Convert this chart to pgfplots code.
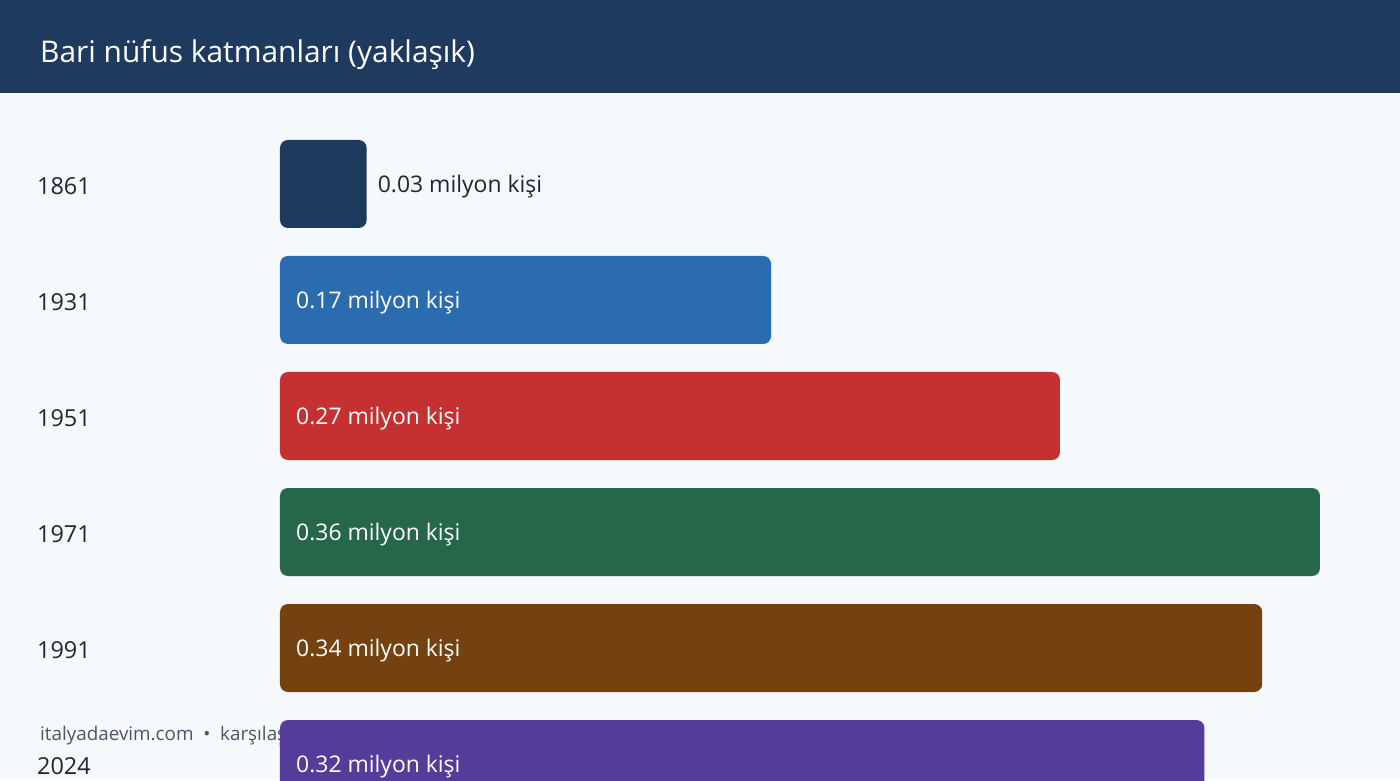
\documentclass[border=0pt]{standalone}
\usepackage{fontspec}
\setmainfont{Open Sans}
\usepackage{pgfplots}
\pgfplotsset{compat=1.18}
\definecolor{bg}{HTML}{F5F9FC}
\definecolor{head}{HTML}{1F3A5F}
\definecolor{lab}{HTML}{1F2533}
\definecolor{foot}{HTML}{4A5568}
\definecolor{c1}{HTML}{1F3A5F}
\definecolor{c2}{HTML}{2B6CB0}
\definecolor{c3}{HTML}{C53030}
\definecolor{c4}{HTML}{276749}
\definecolor{c5}{HTML}{744210}
\definecolor{c6}{HTML}{553C9A}

\begin{document}
\begin{tikzpicture}[x=1bp,y=1bp]
\path[use as bounding box] (0,0) rectangle (1400,780);
\fill[bg] (0,0) rectangle (1400,780);
\fill[head] (0,687) rectangle (1400,780);
\node[anchor=west, inner sep=0, text=white, font=\fontsize{30}{36}\selectfont] at (40,725) {Bari nüfus katmanları (yaklaşık)};
% footer sits behind the last bar
\node[anchor=west, inner sep=0, text=foot, font=\fontsize{18.9}{23}\selectfont] at (40,44) {italyadaevim.com \ • \ karşılaştırma};

\begin{axis}[
    at={(0,0)}, anchor=south west,
    scale only axis,
    width=1400bp, height=780bp,
    xmin=-0.096923, xmax=0.387692,
    ymin=-1.58621, ymax=5.13793,
    y dir=reverse,
    axis line style={draw=none},
    xtick=\empty,
    ytick={0,1,2,3,4,5},
    yticklabels={\textnormal{1861},\textnormal{1931},\textnormal{1951},\textnormal{1971},\textnormal{1991},\textnormal{2024}},
    major tick length=0pt,
    yticklabel style={anchor=west, inner sep=0pt, xshift=37bp, yshift=-2bp, text=lab, font=\fontsize{23.5}{28}\selectfont},
]

\addplot[xbar, bar width=88bp, bar shift=0pt, fill=c1, draw=none, rounded corners=8bp] coordinates {(0.03,0)};
\addplot[xbar, bar width=88bp, bar shift=0pt, fill=c2, draw=none, rounded corners=8bp] coordinates {(0.17,1)};
\addplot[xbar, bar width=88bp, bar shift=0pt, fill=c3, draw=none, rounded corners=8bp] coordinates {(0.27,2)};
\addplot[xbar, bar width=88bp, bar shift=0pt, fill=c4, draw=none, rounded corners=8bp] coordinates {(0.36,3)};
\addplot[xbar, bar width=88bp, bar shift=0pt, fill=c5, draw=none, rounded corners=8bp] coordinates {(0.34,4)};
\addplot[xbar, bar width=88bp, bar shift=0pt, fill=c6, draw=none, rounded corners=8bp] coordinates {(0.32,5)};

% label outside the short bar
\addplot[draw=none, point meta=explicit,
    nodes near coords={\pgfmathprintnumber[fixed,fixed zerofill,precision=2,assume math mode=true]{\pgfplotspointmeta}~milyon kişi},
    nodes near coords style={anchor=west, inner sep=0pt, xshift=11bp, yshift=-3bp, text=lab, font=\fontsize{23}{28}\selectfont}]
    coordinates {(0.03,0) [0.03]};

% labels inside the bars, at their start
\addplot[draw=none, point meta=explicit,
    nodes near coords={\pgfmathprintnumber[fixed,fixed zerofill,precision=2,assume math mode=true]{\pgfplotspointmeta}~milyon kişi},
    nodes near coords style={anchor=west, inner sep=0pt, xshift=16bp, yshift=-3bp, text=white, font=\fontsize{23}{28}\selectfont}]
    coordinates {(0,1) [0.17] (0,2) [0.27] (0,3) [0.36] (0,4) [0.34] (0,5) [0.32]};
\end{axis}
\end{tikzpicture}
\end{document}
